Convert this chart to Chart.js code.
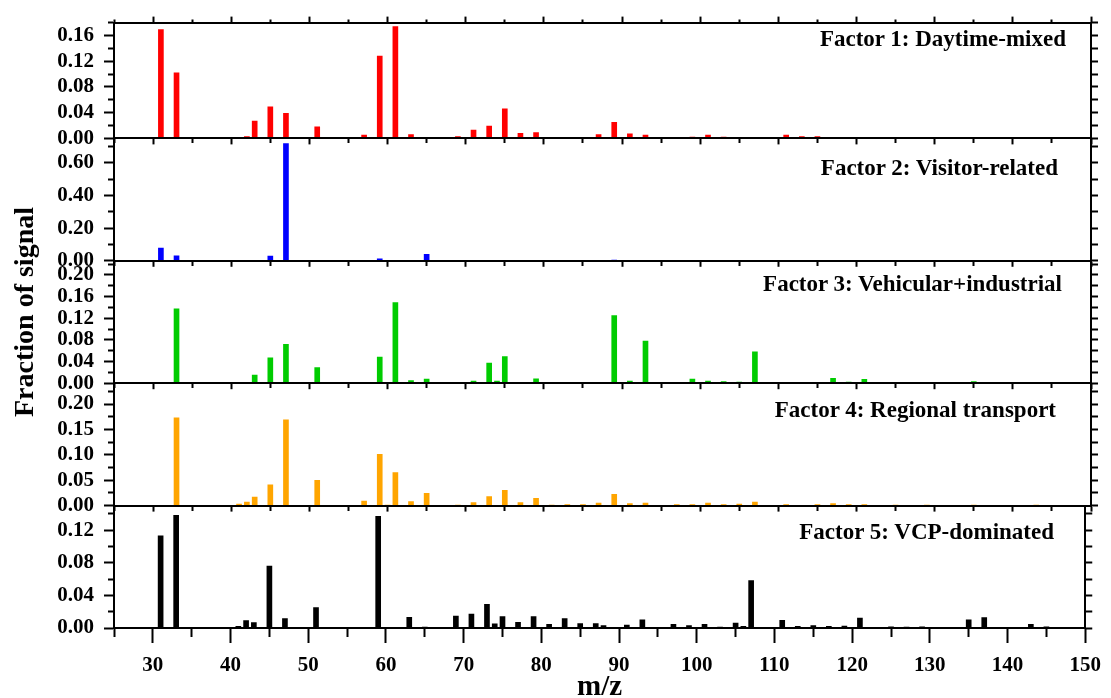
<!DOCTYPE html>
<html>
<head>
<meta charset="utf-8">
<script src="https://cdn.jsdelivr.net/npm/chart.js@4.4.0/dist/chart.umd.min.js"></script>
<style>
  body { margin: 0; background: #fff; }
  #wrap { position: relative; width: 1111px; height: 698px; overflow: hidden; }
  #wrap canvas { position: absolute; left: 0; top: 0; }
  .factor { position: absolute; font: bold 23px 'Liberation Serif', 'Times New Roman', serif; line-height: 1; white-space: nowrap; color: #000; }
  #ytitle { position: absolute; left: 24px; top: 312px; font: bold 28px 'Liberation Serif', 'Times New Roman', serif; line-height: 1; white-space: nowrap;
            transform: translate(-50%, -50%) rotate(-90deg); color: #000; }
</style>
</head>
<body>
<div id="wrap"></div>
<script>
// m/z of the ions, shared by all factor profiles
const mz = [31, 33, 41, 42, 43, 45, 47, 51, 57, 59, 60, 61, 63, 65, 69, 71, 73, 74, 75, 77,
            79, 81, 83, 85, 87, 88, 89, 91, 93, 97, 99, 101, 103, 105, 106, 107, 109, 111, 113, 115,
            117, 119, 121, 123, 125, 127, 129, 131, 133, 135, 137, 143, 145];

// fraction of signal per ion for each factor (same order as mz)
const factor1 = [0.169, 0.102, 0.001, 0.003, 0.027, 0.049, 0.039, 0.018, 0.005, 0.128, 0, 0.174, 0.006, 0, 0.003, 0.013, 0.019, 0, 0.046, 0.008,
                 0.009, 0.001, 0.001, 0.001, 0.006, 0, 0.025, 0.007, 0.005, 0.001, 0.002, 0.005, 0.002, 0.001, 0, 0.001, 0.001, 0.005, 0.003, 0.003,
                 0.001, 0.001, 0.001, 0.001, 0, 0.001, 0.001, 0.001, 0, 0, 0, 0, 0];
const factor2 = [0.078, 0.030, 0.001, 0.001, 0.002, 0.029, 0.719, 0.002, 0.001, 0.012, 0, 0.002, 0.001, 0.040, 0.003, 0.001, 0.002, 0, 0.002, 0,
                 0.001, 0, 0, 0, 0.001, 0, 0.004, 0, 0.001, 0, 0, 0.001, 0, 0, 0, 0.001, 0, 0.002, 0, 0,
                 0, 0, 0, 0, 0, 0, 0, 0, 0, 0, 0, 0, 0];
const factor3 = [0, 0.1375, 0.001, 0.001, 0.015, 0.047, 0.072, 0.029, 0.001, 0.048, 0, 0.149, 0.005, 0.0075, 0.001, 0.004, 0.037, 0.004, 0.049, 0.001,
                 0.008, 0.001, 0.001, 0.001, 0.001, 0, 0.125, 0.004, 0.078, 0.001, 0.0075, 0.004, 0.003, 0.002, 0, 0.058, 0, 0.001, 0.001, 0,
                 0.009, 0.002, 0.007, 0, 0, 0, 0, 0, 0.001, 0.003, 0.001, 0, 0];
const factor4 = [0, 0.173, 0.003, 0.007, 0.017, 0.041, 0.169, 0.050, 0.009, 0.101, 0.001, 0.065, 0.008, 0.024, 0.001, 0.006, 0.018, 0, 0.030, 0.006,
                 0.0145, 0.001, 0.002, 0.002, 0.005, 0, 0.022, 0.004, 0.005, 0.002, 0.002, 0.005, 0.002, 0.003, 0, 0.007, 0, 0.002, 0, 0.002,
                 0.004, 0.002, 0.002, 0, 0.001, 0, 0.001, 0, 0, 0.001, 0, 0.001, 0];
const factor5 = [0.113, 0.138, 0.002, 0.009, 0.0065, 0.076, 0.0115, 0.025, 0, 0.137, 0, 0, 0.013, 0.001, 0.0147, 0.017, 0.029, 0.005, 0.014, 0.007,
                 0.014, 0.0045, 0.0115, 0.0055, 0.0055, 0.003, 0, 0.0035, 0.010, 0.0045, 0.003, 0.0045, 0.001, 0.006, 0.002, 0.058, 0, 0.0095, 0.002, 0.003,
                 0.002, 0.0025, 0.0122, 0, 0.0015, 0.001, 0.0015, 0, 0, 0.010, 0.0127, 0.0045, 0.0015];

const factorNames = ['Factor 1: Daytime-mixed', 'Factor 2: Visitor-related', 'Factor 3: Vehicular+industrial',
                     'Factor 4: Regional transport', 'Factor 5: VCP-dominated'];
const factorColors = ['#ff0000', '#0000ff', '#00cc00', '#ffa500', '#000000'];
const yMax = [0.18, 0.75, 0.226, 0.241, 0.15];
const yMajor = [0.04, 0.2, 0.04, 0.05, 0.04];
const yMinor = [0.02, 0.1, 0.02, 0.025, 0.02];
const xMin = 25, xMax = 150, xMajor = 10, xMinor = 5;

const profiles = [factor1, factor2, factor3, factor4, factor5];

// frame geometry
const W = 1111, H = 698;
const plotLeft = 114, plotRight = 1091;
const panelTop = 16, panelH = 122.4;
const labelRight = [45, 53, 49, 55, 57];        // distance of factor labels from right edge
const labelTop = [27.4, 156.4, 272.4, 398.4, 519.7];

Chart.defaults.font.family = "'Liberation Serif', 'Times New Roman', serif";
Chart.defaults.font.weight = 'bold';
Chart.defaults.font.size = 21;
Chart.defaults.color = '#000';

function isMajor(v, step) {
  return Math.abs(v / step - Math.round(v / step)) < 1e-6;
}

// minor ticks are drawn shorter by dashing the tick line;
// top/left ticks start at their outer end, bottom/right ones at the axis
function tickDash(pos, len, minorLen, step) {
  return function(ctx) {
    if (!ctx.tick || isMajor(ctx.tick.value, step)) return [];
    if (pos === 'top' || pos === 'left') return [0, len - minorLen, minorLen, 100];
    return [minorLen, 100];
  };
}

function axisFrame(pos, len, minorLen, step) {
  return {
    offset: false,
    border: { display: true, color: '#000', width: 2, z: 1 },
    grid: { offset: false, drawOnChartArea: false, drawTicks: true, tickLength: len, tickWidth: 2, tickColor: '#000',
            tickBorderDash: tickDash(pos, len, minorLen, step) }
  };
}

const wrap = document.getElementById('wrap');
const charts = [];

for (let i = 0; i < 5; i++) {
  const canvas = document.createElement('canvas');
  canvas.width = W;
  canvas.height = H;
  wrap.appendChild(canvas);

  const last = i === 4;
  const top = panelTop + i * panelH;
  const bottom = top + panelH;
  const xAxisH = last ? H - bottom : 8;

  const points = mz.map((m, k) => ({ x: m, y: profiles[i][k] })).filter(p => p.y > 0);

  const scales = {
    x: Object.assign(axisFrame('bottom', last ? 15 : 6, last ? 8 : 4, xMajor), {
      type: 'linear', position: 'bottom', min: xMin, max: xMax,
      ticks: { display: last, stepSize: xMinor, autoSkip: false, maxRotation: 0, padding: 10,
               callback: v => (isMajor(v, xMajor) && v > xMin) ? String(v) : '' },
      title: { display: last, text: 'm/z', font: { size: 29, weight: 'bold' }, padding: { top: 0, bottom: -7 } },
      afterFit: s => { s.height = xAxisH; }
    }),
    y: Object.assign(axisFrame('left', 10, 6, yMajor[i]), {
      position: 'left', min: 0, max: yMax[i],
      ticks: { stepSize: yMinor[i], autoSkip: false, includeBounds: false, padding: 10,
               callback: v => isMajor(v, yMajor[i]) ? v.toFixed(2) : '' },
      afterFit: s => { s.width = plotLeft; }
    }),
    yRight: Object.assign(axisFrame('right', 7, 7, yMajor[i]), {
      position: 'right', min: 0, max: yMax[i],
      ticks: { display: false, stepSize: yMinor[i], autoSkip: false, includeBounds: false },
      afterFit: s => { s.width = W - plotRight; }
    })
  };
  if (i === 0) {
    scales.xTop = Object.assign(axisFrame('top', 6, 3, xMajor), {
      type: 'linear', position: 'top', min: xMin, max: xMax,
      ticks: { display: false, stepSize: xMinor, autoSkip: false },
      afterFit: s => { s.height = panelTop; }
    });
  }

  charts.push(new Chart(canvas, {
    type: 'bar',
    data: {
      datasets: [{
        label: factorNames[i],
        data: points,
        backgroundColor: factorColors[i],
        borderWidth: 0,
        barThickness: 5,
        yAxisID: 'y'
      }]
    },
    options: {
      responsive: false,
      animation: false,
      events: [],
      layout: { autoPadding: false, padding: { left: 0, right: 0, top: i === 0 ? 0 : top, bottom: H - bottom - xAxisH } },
      plugins: { legend: { display: false }, tooltip: { enabled: false } },
      scales: scales
    }
  }));

  const lbl = document.createElement('div');
  lbl.className = 'factor';
  lbl.textContent = factorNames[i];
  lbl.style.right = labelRight[i] + 'px';
  lbl.style.top = labelTop[i] + 'px';
  wrap.appendChild(lbl);
}

const yt = document.createElement('div');
yt.id = 'ytitle';
yt.textContent = 'Fraction of signal';
wrap.appendChild(yt);
</script>
</body>
</html>
